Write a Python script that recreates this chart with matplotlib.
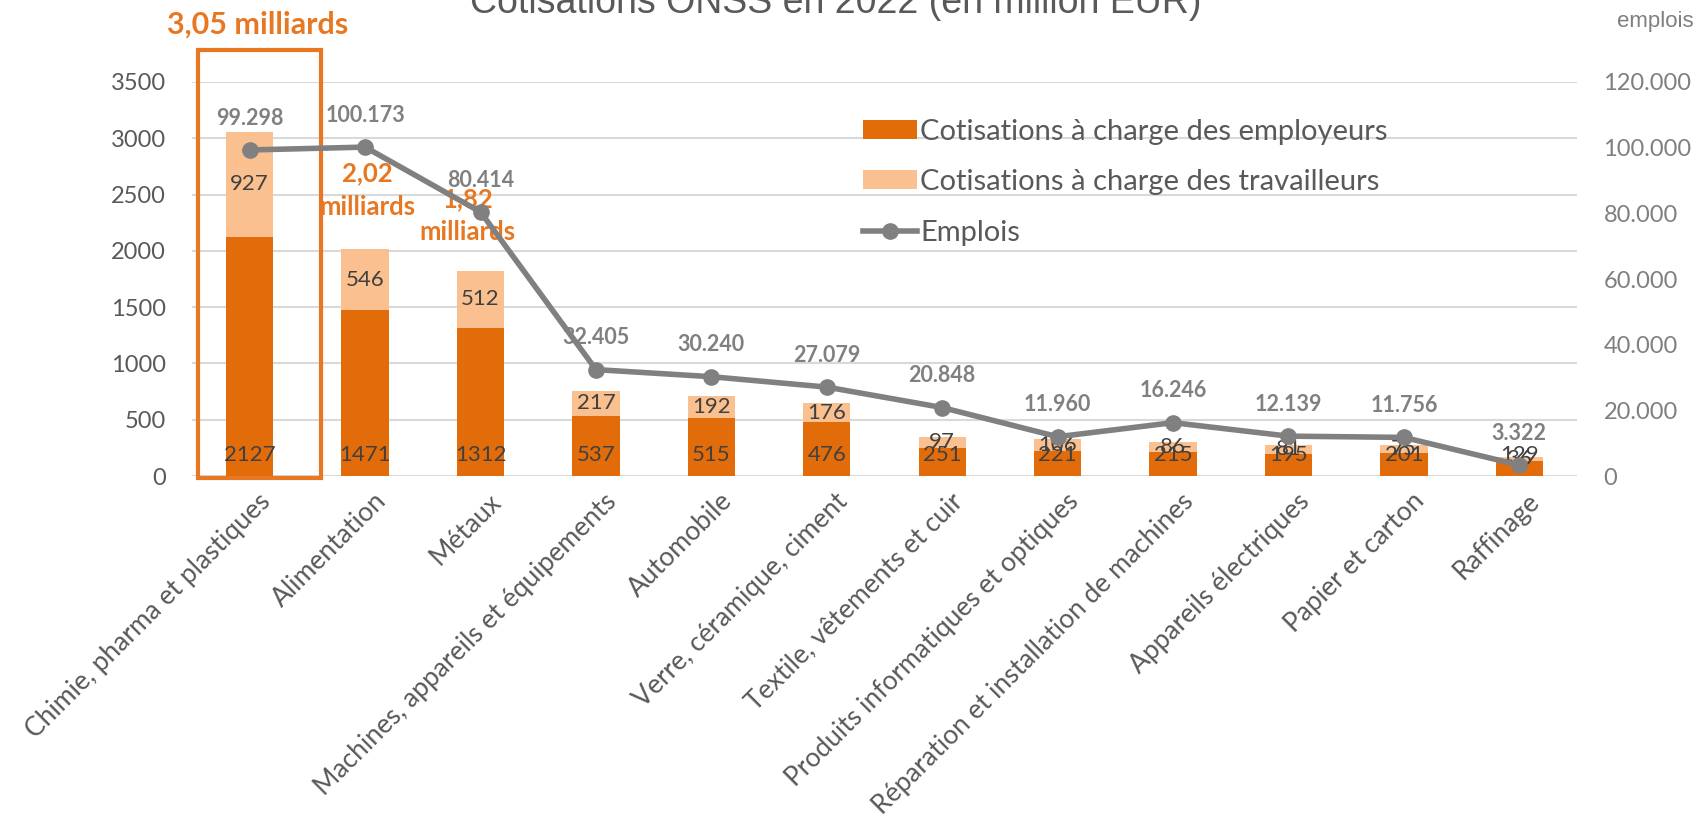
import matplotlib.pyplot as plt
import matplotlib.patches as patches
from matplotlib.ticker import FuncFormatter
from matplotlib.transforms import ScaledTranslation
import numpy as np

# Colours (Excel orange palette + greys)
COLOR_EMP = "#E36C0A"
COLOR_TRAV = "#FAC090"
COLOR_LINE = "#808080"
COLOR_TICK = "#595959"
COLOR_TICK2 = "#7F7F7F"
COLOR_LABEL = "#404040"
COLOR_NOTE = "#E87722"
COLOR_GRID = "#D9D9D9"

categories = [
    "Chimie, pharma et plastiques", "Alimentation", "Métaux",
    "Machines, appareils et équipements", "Automobile",
    "Verre, céramique, ciment", "Textile, vêtements et cuir",
    "Produits informatiques et optiques",
    "Réparation et installation de machines", "Appareils électriques",
    "Papier et carton", "Raffinage",
]
employeurs = [2127, 1471, 1312, 537, 515, 476, 251, 221, 215, 195, 201, 129]
travailleurs = [927, 546, 512, 217, 192, 176, 97, 106, 86, 81, 75, 36]
emplois = [99298, 100173, 80414, 32405, 30240, 27079, 20848, 11960, 16246,
           12139, 11756, 3322]

left_ticks = [0, 500, 1000, 1500, 2000, 2500, 3000, 3500]
right_ticks = [0, 20000, 40000, 60000, 80000, 100000, 120000]

notes = [("3,05 milliards", 0.07, 4010, 22), ("2,02\nmilliards", 1.02, 2540, 18.5),
         ("1,82\nmilliards", 1.89, 2310, 18.5)]


def thousands(v, pos=None):
    return f"{int(v):,}".replace(",", ".")


plt.rcParams['font.family'] = ['Lato', 'DejaVu Sans']

fig = plt.figure(figsize=(16.98, 8.22), dpi=100)
ax = fig.add_axes([192 / 1698, 1 - 476 / 822, (1577 - 192) / 1698, (476 - 82) / 822])
x = np.arange(len(categories))
w = 0.41

b1 = ax.bar(x, employeurs, width=w, color=COLOR_EMP, zorder=2,
            label="Cotisations à charge des employeurs")
b2 = ax.bar(x, travailleurs, width=w, bottom=employeurs, color=COLOR_TRAV, zorder=2,
            label="Cotisations à charge des travailleurs")

# data labels: employers at inside base, workers centred
for xi, e, t in zip(x, employeurs, travailleurs):
    ax.annotate(str(e), (xi, 0), xytext=(0, 8), textcoords="offset points",
                ha="center", va="bottom", fontsize=16, color=COLOR_LABEL, zorder=3)
    ax.text(xi, e + t / 2, str(t), ha="center", va="center", fontsize=16,
            color=COLOR_LABEL, zorder=3)

ax.set_ylim(0, 3500)
ax.set_xlim(-0.5, len(categories) - 0.5)
ax.set_yticks(left_ticks)
ax.grid(axis="y", color=COLOR_GRID, linewidth=1.5, zorder=0)
ax.set_axisbelow(True)
for s in ax.spines.values():
    s.set_visible(False)
ax.tick_params(axis="both", length=0)
ax.tick_params(axis="y", labelsize=17, labelcolor=COLOR_TICK, pad=19)
ax.set_xticks(x)
ax.set_xticklabels(categories, rotation=45, ha="right", rotation_mode="anchor",
                   fontsize=19, color=COLOR_TICK)
ax.tick_params(axis="x", pad=9)
shift = ScaledTranslation(8 / 100, 0, fig.dpi_scale_trans)
for lab in ax.get_xticklabels():
    lab.set_transform(lab.get_transform() + shift)

# highlight box around first bar
box = patches.Rectangle((-0.45, -20), 1.07, 3800, fill=False, edgecolor=COLOR_NOTE,
                        linewidth=3, clip_on=False, zorder=4)
ax.add_patch(box)
for txt, nx, ny, fs in notes:
    ax.text(nx, ny, txt, ha="center", va="center", fontsize=fs, fontweight="bold",
            color=COLOR_NOTE, linespacing=1.45, zorder=5)

ax2 = ax.twinx()
line, = ax2.plot(x, emplois, color=COLOR_LINE, linewidth=4, marker="o",
                 markersize=11, label="Emplois", zorder=5)
for xi, v in zip(x, emplois):
    ax2.annotate(thousands(v), (xi, v), xytext=(0, 23), textcoords="offset points",
                 ha="center", va="center", fontsize=15.5, fontweight="bold",
                 color=COLOR_LINE)
ax2.set_ylim(0, 120000)
ax2.set_yticks(right_ticks)
ax2.yaxis.set_major_formatter(FuncFormatter(thousands))
ax2.tick_params(axis="y", length=0, labelsize=17, labelcolor=COLOR_TICK2, pad=19)
for s in ax2.spines.values():
    s.set_visible(False)

ax2.legend([b1, b2, line], [b1.get_label(), b2.get_label(), "Emplois"],
           loc="upper left", bbox_to_anchor=(848 / 1698, 1 - 104 / 822),
           bbox_transform=fig.transFigure, frameon=False, fontsize=21,
           handlelength=1.86, handleheight=0.62, handletextpad=0.12,
           labelspacing=0.84, borderpad=0, labelcolor=COLOR_TICK)

fig.text(836 / 1698, 1 - 13 / 822, "Cotisations ONSS en 2022 (en million EUR)",
         ha="center", va="baseline", fontsize=27, color=COLOR_TICK,
         family="Liberation Sans")
fig.text(1655 / 1698, 1 - 22 / 822, "emplois", ha="center", va="center",
         fontsize=16, color=COLOR_TICK2, family="Liberation Sans")

fig.savefig("out.png", dpi=100)
